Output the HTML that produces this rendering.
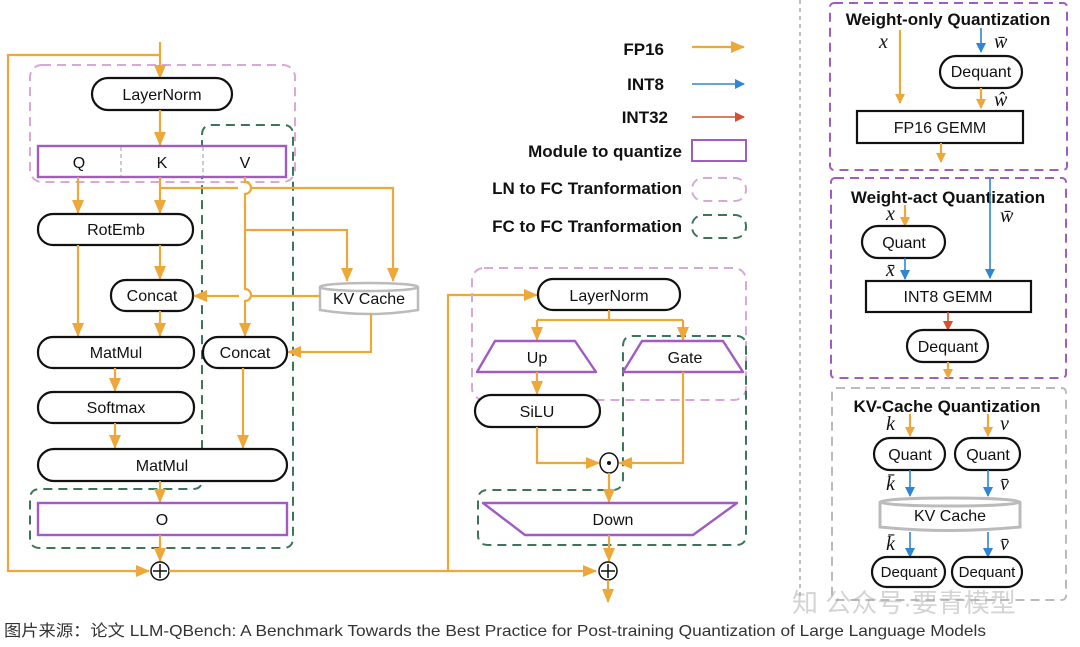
<!DOCTYPE html>
<html><head><meta charset="utf-8"><style>
html,body{margin:0;padding:0;background:#fff;}
svg{display:block;font-family:"Liberation Sans",Arial,sans-serif;}
.n{fill:#fff;stroke:#111;stroke-width:2.2;}
.m{fill:#fff;stroke:#a05cc0;stroke-width:2.4;}
.t{font-size:16px;fill:#111;text-anchor:middle;}
.o{stroke:#eea83a;stroke-width:2.2;fill:none;}
.b{stroke:#2f86d4;stroke-width:1.6;fill:none;}
.r{stroke:#d5502c;stroke-width:1.6;fill:none;}
.pk{fill:none;stroke:#d7a8d8;stroke-width:2;stroke-dasharray:9 6;}
.gr{fill:none;stroke:#3c7558;stroke-width:2;stroke-dasharray:9 6;}
.pp{fill:none;stroke:#a05cc0;stroke-width:2;stroke-dasharray:9 6;}
.gy{fill:none;stroke:#bbb;stroke-width:2;stroke-dasharray:9 6;}
.h{font-size:16px;font-weight:bold;fill:#111;}
.v{font-family:"Liberation Serif",serif;font-style:italic;font-size:20px;fill:#111;}
</style></head><body>
<svg width="1080" height="647" viewBox="0 0 1080 647" xmlns="http://www.w3.org/2000/svg">
<defs>
<marker id="ao" markerWidth="10" markerHeight="10" refX="9" refY="5" orient="auto" markerUnits="userSpaceOnUse"><path d="M0,0 L10,5 L0,10 z" fill="#eea83a"/></marker>
<marker id="ab" markerWidth="10" markerHeight="10" refX="9" refY="5" orient="auto" markerUnits="userSpaceOnUse"><path d="M0,0 L10,5 L0,10 z" fill="#2f86d4"/></marker>
<marker id="ar" markerWidth="10" markerHeight="10" refX="9" refY="5" orient="auto" markerUnits="userSpaceOnUse"><path d="M0,0 L10,5 L0,10 z" fill="#d5502c"/></marker>
<marker id="aoL" markerWidth="14" markerHeight="12" refX="13" refY="6" orient="auto" markerUnits="userSpaceOnUse"><path d="M0,0 L14,6 L0,12 z" fill="#eea83a"/></marker>
</defs>

<!-- dashed group boxes left -->
<rect class="pk" x="30" y="65" width="265" height="117" rx="12"/>
<path class="gr" d="M202,135 Q202,125 212,125 L283,125 Q293,125 293,135 L293,538 Q293,548 283,548 L40,548 Q30,548 30,538 L30,499 Q30,489 40,489 L193,489 Q202,489 202,480 L202,135"/>

<!-- left residual -->
<path class="o" d="M160,42 L160,55 L8,55 L8,571 L149,571" marker-end="url(#aoL)"/>
<path class="o" d="M160,55 L160,78" marker-end="url(#aoL)"/>

<!-- nodes left -->
<rect class="n" x="92" y="78" width="140" height="32" rx="16"/>
<text class="t" x="162" y="100">LayerNorm</text>
<path class="o" d="M160,110 L160,145" marker-end="url(#aoL)"/>
<rect class="m" x="38" y="146" width="248" height="31"/>
<line x1="121" y1="147" x2="121" y2="176" stroke="#999" stroke-width="1" stroke-dasharray="4 3"/>
<line x1="203" y1="147" x2="203" y2="176" stroke="#999" stroke-width="1" stroke-dasharray="4 3"/>
<text class="t" x="79" y="168">Q</text><text class="t" x="162" y="168">K</text><text class="t" x="245" y="168">V</text>

<path class="o" d="M78,177 L78,213" marker-end="url(#aoL)"/>
<path class="o" d="M160,177 L160,213" marker-end="url(#aoL)"/>
<path class="o" d="M160,188 L238,188 M252,188 L393,188 L393,281" marker-end="url(#aoL)"/>
<path class="o" d="M245,177 L245,182 A6,6 0 0 1 245,194 L245,289 A6,6 0 0 1 245,301 L245,336" marker-end="url(#aoL)"/>
<path class="o" d="M245,230 L347,230 L347,281" marker-end="url(#aoL)"/>

<rect class="n" x="38" y="214" width="155" height="31" rx="15"/>
<text class="t" x="116" y="235">RotEmb</text>
<path class="o" d="M160,245 L160,279" marker-end="url(#aoL)"/>
<path class="o" d="M78,245 L78,336" marker-end="url(#aoL)"/>

<rect class="n" x="111" y="280" width="82" height="31" rx="15"/>
<text class="t" x="152" y="301">Concat</text>

<!-- KV cache left -->
<path d="M320,287 L320,310 Q369,318 418,310 L418,287" fill="#fff" stroke="#bbb" stroke-width="2.5"/>
<ellipse cx="369" cy="287" rx="49" ry="4" fill="#fff" stroke="#bbb" stroke-width="2.5"/>
<text class="t" x="369" y="304">KV Cache</text>
<path class="o" d="M320,296 L251,296 M239,296 L194,296" marker-end="url(#aoL)"/>
<path class="o" d="M371,313 L371,352 L288,352" marker-end="url(#aoL)"/>

<path class="o" d="M160,311 L160,336" marker-end="url(#aoL)"/>
<rect class="n" x="38" y="337" width="156" height="31" rx="15"/>
<text class="t" x="116" y="358">MatMul</text>
<rect class="n" x="203" y="337" width="84" height="31" rx="15"/>
<text class="t" x="245" y="358">Concat</text>
<path class="o" d="M115,368 L115,391" marker-end="url(#aoL)"/>
<rect class="n" x="38" y="392" width="156" height="31" rx="15"/>
<text class="t" x="116" y="413">Softmax</text>
<path class="o" d="M115,423 L115,448" marker-end="url(#aoL)"/>
<path class="o" d="M243,368 L243,448" marker-end="url(#aoL)"/>
<rect class="n" x="38" y="449" width="249" height="32" rx="16"/>
<text class="t" x="162" y="471">MatMul</text>
<path class="o" d="M160,481 L160,502" marker-end="url(#aoL)"/>
<rect class="m" x="38" y="503" width="249" height="32"/>
<text class="t" x="162" y="525">O</text>
<path class="o" d="M160,535 L160,561" marker-end="url(#aoL)"/>
<circle cx="160" cy="571" r="9" fill="#fff" stroke="#111" stroke-width="1.5"/>
<path d="M153,571 L167,571 M160,564 L160,578" stroke="#111" stroke-width="1.5"/>

<!-- FFN -->
<path class="o" d="M169,571 L596,571" marker-end="url(#aoL)"/>
<path class="o" d="M448,571 L448,295 L537,295" marker-end="url(#aoL)"/>
<rect class="pk" x="472" y="268" width="274" height="132" rx="12"/>
<path class="gr" d="M623,346 Q623,336 633,336 L736,336 Q746,336 746,346 L746,535 Q746,545 736,545 L488,545 Q478,545 478,535 L478,500 Q478,490 488,490 L612,490 Q623,490 623,478 L623,346"/>
<rect class="n" x="538" y="279" width="142" height="31" rx="15"/>
<text class="t" x="609" y="301">LayerNorm</text>
<path class="o" d="M609,310 L609,320 M537,320 L683,320"/>
<path class="o" d="M537,320 L537,340" marker-end="url(#aoL)"/>
<path class="o" d="M683,320 L683,340" marker-end="url(#aoL)"/>
<path class="m" d="M495,341 L575,341 L596,372 L477,372 Z" stroke-linejoin="round"/>
<text class="t" x="537" y="363">Up</text>
<path class="m" d="M642,341 L723,341 L743,372 L623,372 Z" stroke-linejoin="round"/>
<text class="t" x="685" y="363">Gate</text>
<path class="o" d="M537,372 L537,394" marker-end="url(#aoL)"/>
<rect class="n" x="475" y="395" width="125" height="32" rx="16"/>
<text class="t" x="537" y="417">SiLU</text>
<path class="o" d="M537,427 L537,463 L599,463" marker-end="url(#aoL)"/>
<path class="o" d="M683,372 L683,463 L619,463" marker-end="url(#aoL)"/>
<ellipse cx="609" cy="463" rx="9" ry="10" fill="#fff" stroke="#111" stroke-width="1.5"/>
<circle cx="609" cy="463" r="2" fill="#111"/>
<path class="o" d="M609,473 L609,502" marker-end="url(#aoL)"/>
<path class="m" d="M483,503 L737,503 L693,535 L525,535 Z" stroke-linejoin="round"/>
<text class="t" x="613" y="525">Down</text>
<path class="o" d="M609,535 L609,561" marker-end="url(#aoL)"/>
<circle cx="608" cy="571" r="9" fill="#fff" stroke="#111" stroke-width="1.5"/>
<path d="M601,571 L615,571 M608,564 L608,578" stroke="#111" stroke-width="1.5"/>
<path class="o" d="M608,580 L608,602" marker-end="url(#aoL)"/>

<!-- legend -->
<g class="h" text-anchor="end" style="font-size:17px">
<text x="664" y="55">FP16</text>
<text x="664" y="90">INT8</text>
<text x="668" y="123">INT32</text>
<text x="682" y="157">Module to quantize</text>
<text x="682" y="194">LN to FC Tranformation</text>
<text x="682" y="232">FC to FC Tranformation</text>
</g>
<path class="o" d="M692,47 L744,47" marker-end="url(#aoL)"/>
<path class="b" stroke-width="2.2" d="M692,84 L744,84" marker-end="url(#ab)"/>
<path class="r" stroke-width="2.2" d="M692,117 L744,117" marker-end="url(#ar)"/>
<rect x="692" y="140" width="54" height="21" fill="none" stroke="#a05cc0" stroke-width="2"/>
<rect class="pk" x="692" y="178" width="54" height="23" rx="11"/>
<rect class="gr" x="692" y="215" width="54" height="23" rx="11"/>

<!-- separator -->
<line x1="800" y1="0" x2="800" y2="600" stroke="#aaa" stroke-width="1.5" stroke-dasharray="4 4"/>

<!-- panel 1 -->
<rect class="pp" x="830" y="3" width="237" height="167" rx="4"/>
<text class="h" x="948" y="25" text-anchor="middle" style="font-size:17px">Weight-only Quantization</text>
<text class="v" x="879" y="48">x</text>
<path class="o" stroke-width="1.6" d="M900,30 L900,103" marker-end="url(#ao)"/>
<path class="b" d="M981,28 L981,52" marker-end="url(#ab)"/>
<text class="v" x="994" y="48">w̄</text>
<rect class="n" x="940" y="56" width="82" height="32" rx="16"/>
<text class="t" x="981" y="77">Dequant</text>
<path class="o" stroke-width="1.6" d="M981,88 L981,108" marker-end="url(#ao)"/>
<text class="v" x="994" y="106">ŵ</text>
<rect class="n" x="857" y="111" width="166" height="32"/>
<text class="t" x="940" y="133">FP16 GEMM</text>
<path class="o" stroke-width="1.6" d="M941,143 L941,162" marker-end="url(#ao)"/>

<!-- panel 2 -->
<rect class="pp" x="831" y="178" width="235" height="200" rx="4"/>
<text class="h" x="948" y="203" text-anchor="middle" style="font-size:17px">Weight-act Quantization</text>
<text class="v" x="886" y="220">x</text>
<path class="o" stroke-width="1.6" d="M905,205 L905,226" marker-end="url(#ao)"/>
<path class="b" d="M990,178 L990,278" marker-end="url(#ab)"/>
<text class="v" x="1000" y="222">w̄</text>
<rect class="n" x="862" y="226" width="83" height="32" rx="16"/>
<text class="t" x="904" y="248">Quant</text>
<text class="v" x="886" y="276">x̄</text>
<path class="b" d="M905,258 L905,279" marker-end="url(#ab)"/>
<rect class="n" x="866" y="281" width="165" height="31"/>
<text class="t" x="948" y="302">INT8 GEMM</text>
<path class="r" d="M948,312 L948,330" marker-end="url(#ar)"/>
<rect class="n" x="907" y="330" width="81" height="32" rx="16"/>
<text class="t" x="948" y="352">Dequant</text>
<path class="o" stroke-width="1.6" d="M948,362 L948,378" marker-end="url(#ao)"/>

<!-- panel 3 -->
<rect class="gy" x="832" y="388" width="234" height="212" rx="4"/>
<text class="h" x="947" y="412" text-anchor="middle" style="font-size:17px">KV-Cache Quantization</text>
<text class="v" x="886" y="430">k</text>
<path class="o" stroke-width="1.6" d="M910,414 L910,436" marker-end="url(#ao)"/>
<text class="v" x="1000" y="430">v</text>
<path class="o" stroke-width="1.6" d="M988,414 L988,436" marker-end="url(#ao)"/>
<rect class="n" x="874" y="438" width="71" height="32" rx="16"/>
<text class="t" x="910" y="460">Quant</text>
<rect class="n" x="955" y="438" width="65" height="32" rx="16"/>
<text class="t" x="988" y="460">Quant</text>
<text class="v" x="886" y="490">k̄</text>
<path class="b" d="M910,470 L910,496" marker-end="url(#ab)"/>
<text class="v" x="1000" y="490">v̄</text>
<path class="b" d="M988,470 L988,496" marker-end="url(#ab)"/>
<path d="M880,502 L880,527 Q950,534 1020,527 L1020,502" fill="#fff" stroke="#bbb" stroke-width="3"/>
<ellipse cx="950" cy="502" rx="70" ry="4" fill="#fff" stroke="#bbb" stroke-width="3"/>
<text class="t" x="950" y="521">KV Cache</text>
<text class="v" x="886" y="550">k̄</text>
<path class="b" d="M910,532 L910,557" marker-end="url(#ab)"/>
<text class="v" x="1000" y="550">v̄</text>
<path class="b" d="M988,532 L988,557" marker-end="url(#ab)"/>
<rect class="n" x="872" y="557" width="73" height="30" rx="15"/>
<text class="t" x="909" y="577" style="font-size:15px">Dequant</text>
<rect class="n" x="952" y="557" width="70" height="30" rx="15"/>
<text class="t" x="987" y="577" style="font-size:15px">Dequant</text>
<text x="792" y="612" style="font-family:'Liberation Sans','Noto Sans CJK SC',sans-serif;font-size:26px;fill:#aaa;opacity:0.5">知 公众号·要青模型</text>

<!-- caption -->
<text x="4" y="636" textLength="982" lengthAdjust="spacingAndGlyphs" style="font-family:'Liberation Sans','Noto Sans CJK SC',sans-serif;font-size:16px;fill:#333">图片来源：论文 LLM-QBench: A Benchmark Towards the Best Practice for Post-training Quantization of Large Language Models</text>
</svg>
</body></html>
